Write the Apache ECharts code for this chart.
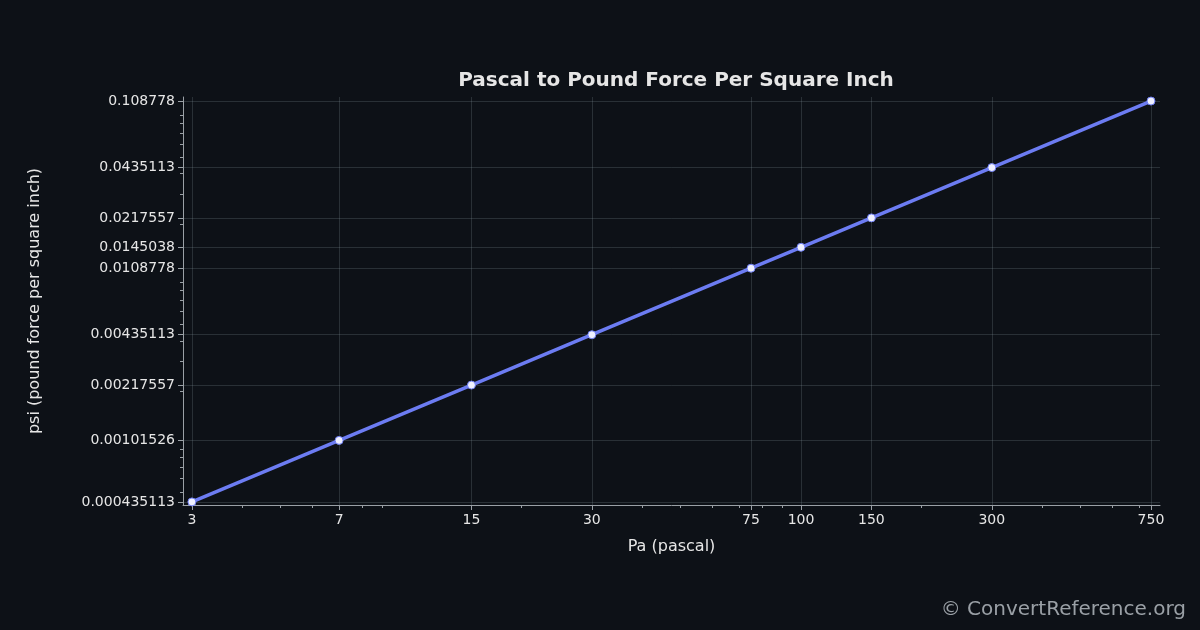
<!DOCTYPE html>
<html><head><meta charset="utf-8">
<script src="https://cdn.jsdelivr.net/npm/echarts@6/dist/echarts.min.js"></script>
<style>html,body{margin:0;background:#0d1117}#chart{width:1200px;height:630px}</style>
</head><body><div id="chart"></div>
<script>
// Pascal values and psi equivalents
const pascal = [3, 7, 15, 30, 75, 100, 150, 300, 750];
const psi = [0.000435113, 0.00101526, 0.00217557, 0.00435113, 0.0108778, 0.0145038, 0.0217557, 0.0435113, 0.108778];
const yLabels = ['0.000435113', '0.00101526', '0.00217557', '0.00435113', '0.0108778', '0.0145038', '0.0217557', '0.0435113', '0.108778'];

const textColor = '#e6e6e6';
const gridColor = 'rgba(140,160,170,0.22)';
const axisColor = '#9aa0a6';

const chart = echarts.init(document.getElementById('chart'));
chart.setOption({
    backgroundColor: '#0d1117',
    animation: false,
    textStyle: { fontFamily: 'DejaVu Sans' },
    title: {
        text: 'Pascal to Pound Force Per Square Inch',
        left: 671, top: 66, textAlign: 'center',
        textStyle: { color: textColor, fontSize: 20, fontWeight: 'bold' }
    },
    graphic: [{
        type: 'text', right: 14, bottom: 10,
        style: { text: '© ConvertReference.org', fill: '#9aa0a6', font: '20px DejaVu Sans' }
    }],
    grid: { left: 183, right: 40, top: 97, bottom: 125 },
    xAxis: {
        type: 'log', logBase: 10, min: 2.85, max: 790,
        name: 'Pa (pascal)', nameLocation: 'middle', nameGap: 34,
        nameTextStyle: { color: textColor, fontSize: 16 },
        axisLine: { lineStyle: { color: axisColor } },
        axisTick: { customValues: pascal, lineStyle: { color: axisColor } },
        minorTick: { show: true, splitNumber: 9, lineStyle: { color: axisColor } },
        axisLabel: { customValues: pascal, color: textColor, fontSize: 14, formatter: v => String(Math.round(v)) },
        splitLine: { show: true, lineStyle: { color: gridColor } }
    },
    yAxis: {
        type: 'log', logBase: 10, min: 0.000417, max: 0.115,
        name: 'psi (pound force per square inch)', nameLocation: 'middle', nameGap: 140,
        nameTextStyle: { color: textColor, fontSize: 16 },
        axisLine: { show: true, lineStyle: { color: axisColor } },
        axisTick: { show: true, customValues: psi, lineStyle: { color: axisColor } },
        minorTick: { show: true, splitNumber: 9, lineStyle: { color: axisColor } },
        axisLabel: {
            customValues: psi, color: textColor, fontSize: 14,
            formatter: v => {
                let best = 0;
                psi.forEach((p, i) => { if (Math.abs(Math.log(p / v)) < Math.abs(Math.log(psi[best] / v))) best = i; });
                return yLabels[best];
            }
        },
        splitLine: { show: true, lineStyle: { color: gridColor } }
    },
    series: [{
        type: 'line',
        data: pascal.map((p, i) => [p, psi[i]]),
        symbol: 'circle', symbolSize: 8,
        lineStyle: { color: '#6c7cf2', width: 3.5 },
        itemStyle: { color: '#eef0ff', borderColor: '#6c7cf2', borderWidth: 1 }
    }]
});
</script>
</body></html>
